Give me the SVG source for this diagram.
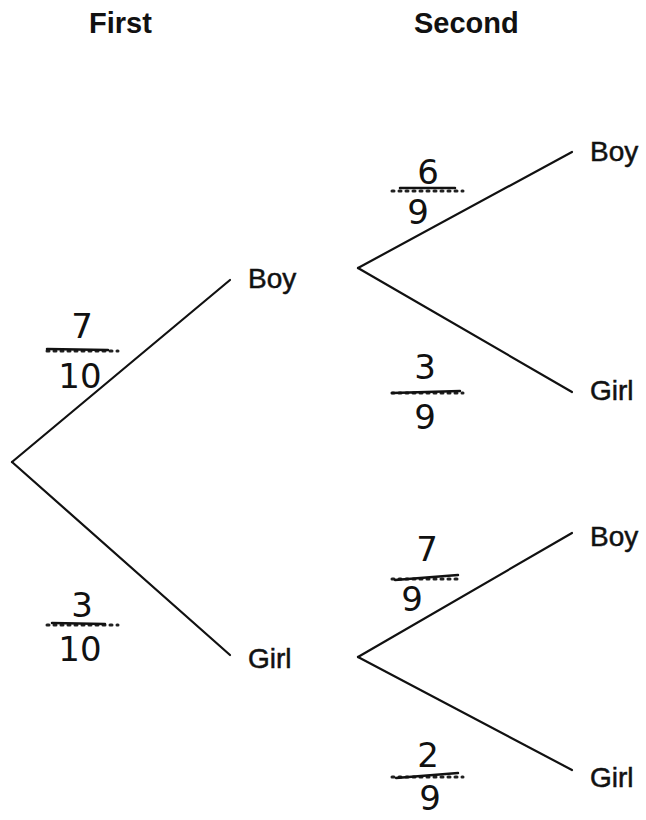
<svg xmlns="http://www.w3.org/2000/svg" width="646" height="820" viewBox="0 0 646 820">
<style>
.hdr{font-family:"Liberation Sans",Arial,sans-serif;font-weight:bold;font-size:29px;fill:#111}
.lbl{font-family:"Liberation Sans",Arial,sans-serif;font-size:28px;fill:#111;stroke:#111;stroke-width:0.5}
.num{font-family:"DejaVu Sans","Liberation Sans",sans-serif;font-size:34px;fill:#111;text-anchor:middle}
.br{stroke:#111;stroke-width:2.2;fill:none;stroke-linecap:round}
.dots{stroke:#222;stroke-width:3;stroke-dasharray:2 5;stroke-linecap:round}
.bar{stroke:#111;stroke-width:2.5;stroke-linecap:round}
</style>
<rect width="646" height="820" fill="#fff"/>
<text class="hdr" x="89" y="33">First</text>
<text class="hdr" x="414" y="33">Second</text>
<g id="connectors">
<path class="br" d="M12 462 L230 280"/>
<path class="br" d="M12 462 L230 655"/>
<path class="br" d="M358 268 L572 152"/>
<path class="br" d="M358 268 L572 392"/>
<path class="br" d="M358 657 L572 533"/>
<path class="br" d="M358 657 L572 770"/>
</g>
<g id="boy1"><text class="lbl" x="248" y="288">Boy</text></g>
<g id="girl1"><text class="lbl" x="248" y="668">Girl</text></g>
<g id="boy2a"><text class="lbl" x="590" y="161">Boy</text></g>
<g id="girl2a"><text class="lbl" x="590" y="400">Girl</text></g>
<g id="boy2b"><text class="lbl" x="590" y="546">Boy</text></g>
<g id="girl2b"><text class="lbl" x="590" y="787">Girl</text></g>
<g id="f7_10">
<text class="num" x="82" y="338">7</text>
<line class="dots" x1="47" y1="351" x2="118" y2="351"/>
<line class="bar" x1="47" y1="349" x2="108" y2="350"/>
<text class="num" x="80" y="388">10</text>
</g>
<g id="f3_10">
<text class="num" x="82" y="617">3</text>
<line class="dots" x1="47" y1="625" x2="118" y2="625"/>
<line class="bar" x1="52" y1="623" x2="105" y2="624"/>
<text class="num" x="80" y="661">10</text>
</g>
<g id="f6_9">
<text class="num" x="428" y="184">6</text>
<line class="dots" x1="392" y1="191" x2="463" y2="191"/>
<line class="bar" x1="400" y1="188" x2="455" y2="188"/>
<text class="num" x="418" y="224">9</text>
</g>
<g id="f3_9">
<text class="num" x="425" y="379">3</text>
<line class="dots" x1="392" y1="393" x2="463" y2="393"/>
<line class="bar" x1="392" y1="393" x2="460" y2="391"/>
<text class="num" x="425" y="429">9</text>
</g>
<g id="f7_9">
<text class="num" x="427" y="561">7</text>
<line class="dots" x1="392" y1="579" x2="462" y2="579"/>
<line class="bar" x1="395" y1="580" x2="458" y2="575"/>
<text class="num" x="412" y="611">9</text>
</g>
<g id="f2_9">
<text class="num" x="428" y="767">2</text>
<line class="dots" x1="392" y1="777" x2="463" y2="777"/>
<line class="bar" x1="396" y1="778" x2="458" y2="773"/>
<text class="num" x="430" y="810">9</text>
</g>
</svg>
